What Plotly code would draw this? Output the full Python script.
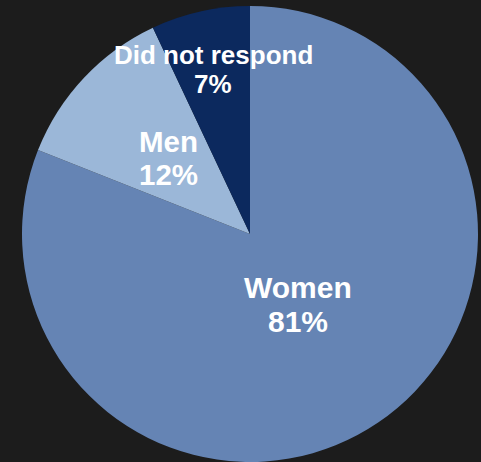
import math
import plotly.graph_objects as go

# Survey respondents by gender
labels = ["Women", "Men", "Did not respond"]
values = [81, 12, 7]
colors = ["#6584b4", "#9bb7d8", "#0c295e"]

# label styling per slice: font size and radial placement (fraction of radius)
label_sizes = [30, 29.5, 26]
label_radius = [0.375, 0.49, 0.74]

W, H = 481, 462
CX, CY, R = 250, 234, 228  # pie centre and radius in pixels (from top-left)

fig = go.Figure(
    go.Pie(
        labels=labels,
        values=values,
        sort=False,
        direction="clockwise",
        rotation=0,
        marker=dict(colors=colors, line=dict(width=0)),
        textinfo="none",
        hoverinfo="label+percent",
        showlegend=False,
        domain=dict(x=[(CX - R) / W, (CX + R) / W],
                    y=[(H - CY - R) / H, (H - CY + R) / H]),
    )
)

# Two-line labels (name / percentage) at each slice's mid-angle
total = sum(values)
start = 0.0
annotations = []
for name, val, size, frac in zip(labels, values, label_sizes, label_radius):
    share = val / total
    mid = (start + share / 2) * 2 * math.pi  # clockwise from 12 o'clock
    start += share
    px = CX + frac * R * math.sin(mid)
    py = CY - frac * R * math.cos(mid)
    gap = 0.56 * size
    for text, dy in ((name, -gap), (f"{share:.0%}", gap)):
        annotations.append(dict(
            text=f"<b>{text}</b>",
            x=px / W, y=1 - (py + dy) / H,
            xref="paper", yref="paper",
            xanchor="center", yanchor="middle",
            showarrow=False,
            font=dict(family="Liberation Sans, Arial, sans-serif",
                      size=size, color="white"),
        ))

fig.update_layout(
    width=W,
    height=H,
    margin=dict(l=0, r=0, t=0, b=0),
    paper_bgcolor="#1c1c1c",
    plot_bgcolor="#1c1c1c",
    annotations=annotations,
)

fig.write_html("out.html")
